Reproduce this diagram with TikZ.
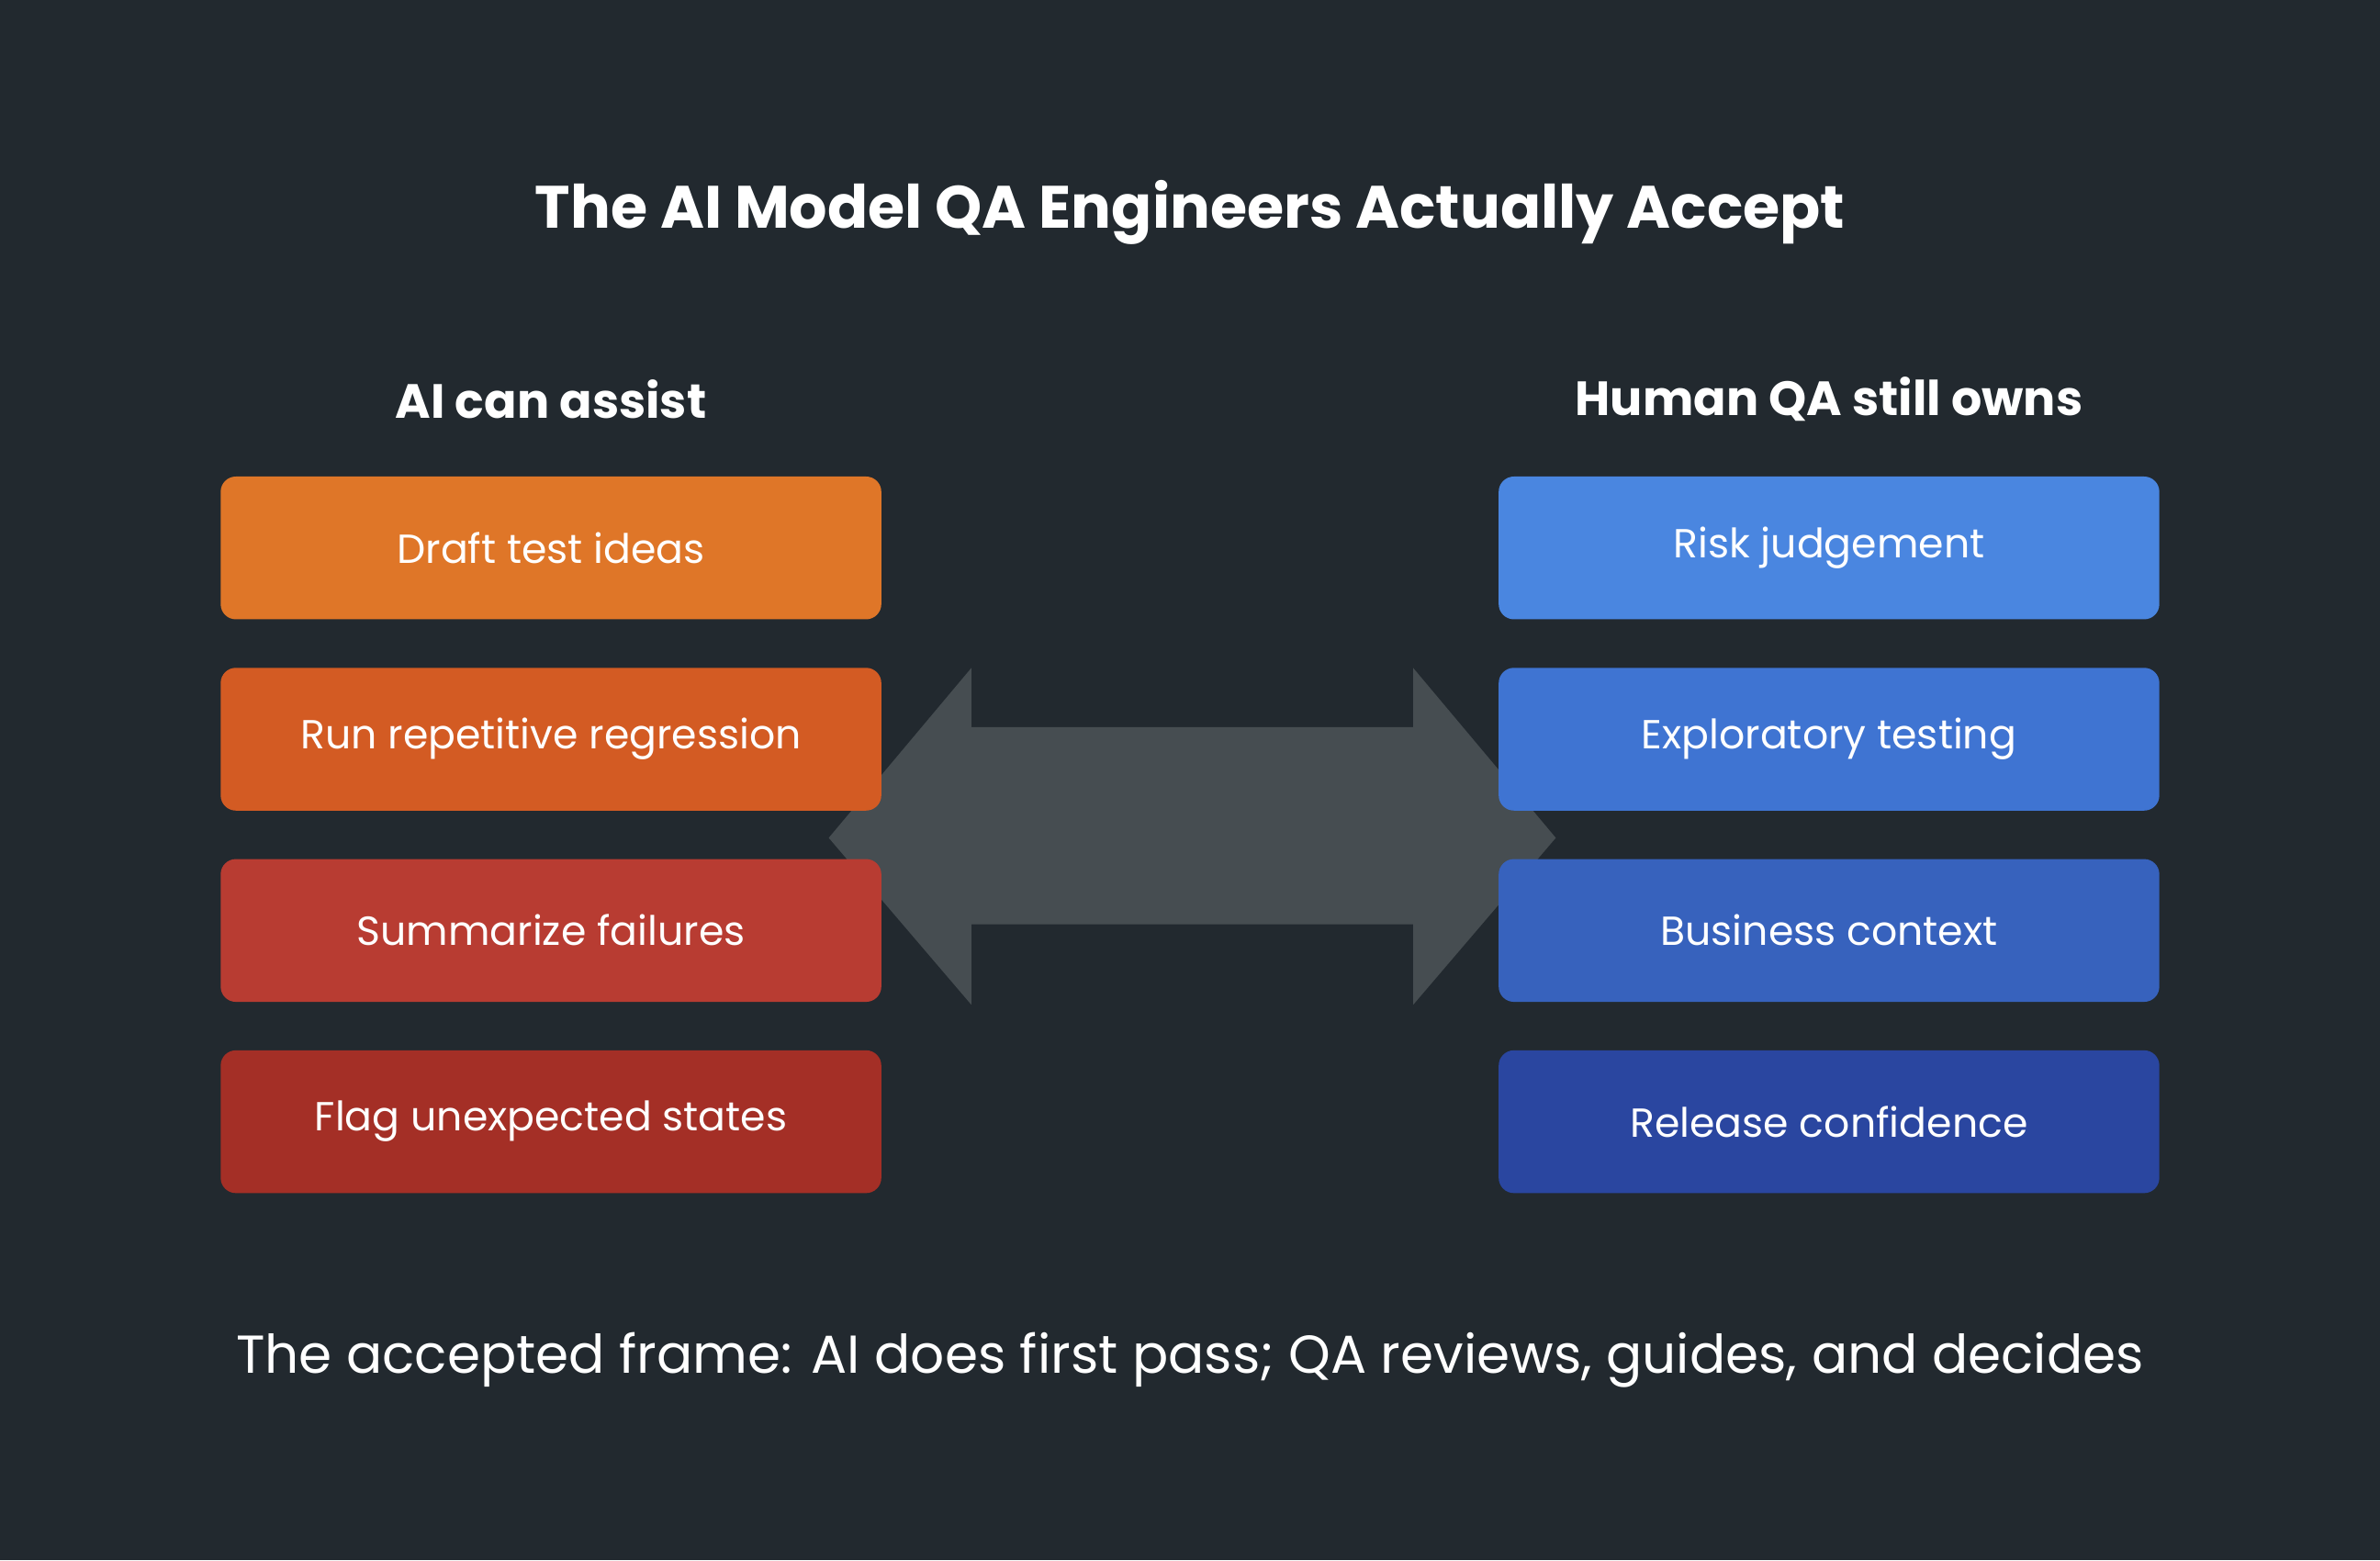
\documentclass[tikz,border=0pt]{standalone}
\usepackage{fontspec}
\setmainfont{Poppins}
\definecolor{bg}{HTML}{22292F}
\definecolor{arr}{HTML}{464D51}
\definecolor{o1}{HTML}{DF7628}
\definecolor{o2}{HTML}{D35B23}
\definecolor{o3}{HTML}{B83C32}
\definecolor{o4}{HTML}{A42F26}
\definecolor{b1}{HTML}{4A86E0}
\definecolor{b2}{HTML}{3F74D2}
\definecolor{b3}{HTML}{3762BD}
\definecolor{b4}{HTML}{2A46A0}
\begin{document}
\begin{tikzpicture}[x=0.01cm,y=-0.01cm,
  card/.style={rounded corners=0.1cm,minimum width=4.35cm,minimum height=0.94cm,inner sep=0,text=white,font=\fontsize{7.6pt}{9pt}\selectfont},
  head/.style={text=white,font=\fontsize{9pt}{11pt}\selectfont\bfseries}]
\fill[bg] (0,0) rectangle (1568,1028);
\useasboundingbox (0,0) rectangle (1568,1028);
\fill[arr] (546,552) -- (640,440) -- (640,479) -- (931,479) -- (931,440) -- (1025,552) -- (931,662) -- (931,609) -- (640,609) -- (640,662) -- cycle;
\node[text=white,font=\fontsize{11.2pt}{13pt}\selectfont\bfseries] (title) at (784,140) {The AI Model QA Engineers Actually Accept};
\node[head] (hl) at (363,263) {AI can assist};
\node[head] (hr) at (1205,263) {Human QA still owns};
\node[card,fill=o1] (l1) at (363,361) {Draft test ideas};
\node[card,fill=o2] (l2) at (363,487) {Run repetitive regression};
\node[card,fill=o3] (l3) at (363,613) {Summarize failures};
\node[card,fill=o4] (l4) at (363,739) {Flag unexpected states};
\node[card,fill=b1] (r1) at (1205,361) {Risk judgement};
\node[card,fill=b2] (r2) at (1205,487) {Exploratory testing};
\node[card,fill=b3] (r3) at (1205,613) {Business context};
\node[card,fill=b4] (r4) at (1205,739) {Release confidence};
\node[text=white,font=\fontsize{10pt}{12pt}\selectfont] (foot) at (784,896) {The accepted frame: AI does first pass; QA reviews, guides, and decides};
\end{tikzpicture}
\end{document}
